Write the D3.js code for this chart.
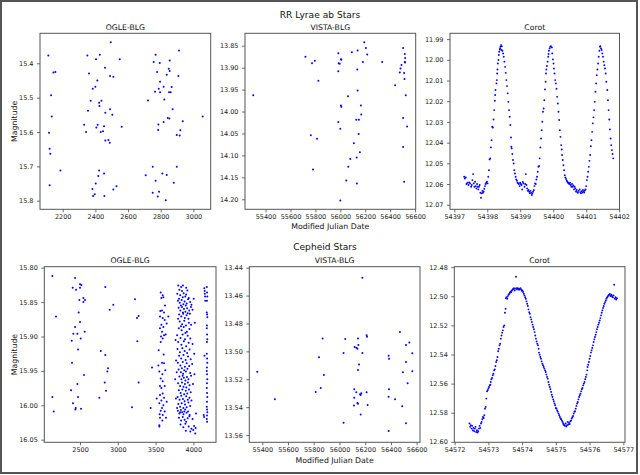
<!DOCTYPE html>
<html><head><meta charset="utf-8">
<script src="https://cdn.jsdelivr.net/npm/d3@7"></script>
<style>body{margin:0;background:#fff}svg{display:block;font-family:"DejaVu Sans",sans-serif}</style>
</head><body><svg id="c" width="640" height="475"></svg>
<script>
// ---------- DATA ----------
const suptitles = ["RR Lyrae ab Stars", "Cepheid Stars"];
const subtitles = ["OGLE-BLG", "VISTA-BLG", "Corot"];
const yLabel = "Magnitude";
const xLabel = "Modified Julian Date";

// RR Lyrae – OGLE-BLG  [JD, mag]
const rrOgle = [[2112,15.377],[2494,15.339],[2351,15.377],[2427,15.375],[2404,15.388],[2361,15.430],[2549,15.388],[2459,15.413],[2490,15.437],[2510,15.439],[2412,15.450],[2400,15.468],[2384,15.474],[2143,15.427],[2155,15.425],[2129,15.493],[2371,15.509],[2437,15.509],[2423,15.515],[2425,15.524],[2355,15.538],[2490,15.534],[2461,15.544],[2504,15.550],[2133,15.555],[2331,15.579],[2414,15.579],[2453,15.583],[2561,15.585],[2406,15.587],[2343,15.600],[2433,15.600],[2447,15.598],[2116,15.602],[2461,15.625],[2480,15.623],[2488,15.631],[2120,15.649],[2124,15.663],[2186,15.712],[2423,15.712],[2453,15.721],[2418,15.728],[2402,15.750],[2120,15.755],[2529,15.758],[2510,15.767],[2382,15.766],[2396,15.781],[2386,15.786],[2455,15.786],
[2769,15.375],[2912,15.363],[2757,15.396],[2794,15.399],[2855,15.392],[2778,15.425],[2849,15.416],[2855,15.422],[2837,15.433],[2908,15.437],[2796,15.454],[2818,15.468],[2867,15.469],[2788,15.474],[2765,15.483],[2796,15.484],[2861,15.484],[2851,15.484],[2722,15.508],[2822,15.505],[2873,15.534],[2843,15.559],[2853,15.561],[2818,15.571],[2935,15.569],[3057,15.555],[2786,15.578],[2784,15.594],[2920,15.595],[2898,15.609],[2916,15.610],[2751,15.701],[2898,15.701],[2708,15.726],[2810,15.721],[2837,15.725],[2769,15.742],[2880,15.748],[2790,15.774],[2751,15.777],[2782,15.788],[2831,15.799]];

// RR Lyrae – VISTA-BLG [MJD, mag]
const rrVista = [[55301,13.963],[55720,13.875],[55773,13.890],[55795,13.884],[55824,13.930],[55763,14.054],[55813,14.062],[55781,14.132],[55984,13.867],[55987,13.890],[55995,13.891],[55984,13.908],[56005,13.881],[56008,13.882],[56093,13.865],[56139,13.861],[56136,13.904],[56192,13.842],[56205,13.855],[56216,13.870],[56181,13.887],[56336,13.887],[56139,13.952],[56061,13.965],[56005,13.986],[56008,13.989],[56165,13.986],[56168,14.007],[55984,14.024],[56128,14.019],[56149,14.019],[56000,14.039],[56147,14.051],[56109,14.072],[56157,14.093],[56080,14.108],[56131,14.105],[56064,14.126],[56048,14.157],[56133,14.164],[56000,14.203],[56440,13.940],[56504,13.855],[56517,13.869],[56520,13.878],[56517,13.887],[56520,13.888],[56491,13.894],[56483,13.902],[56477,13.911],[56512,13.912],[56515,13.926],[56525,13.963],[56504,14.015],[56536,14.034],[56504,14.081],[56512,14.160]];

// RR Lyrae – Corot
const rrCorotJD = [54397.30,54397.32,54397.35,54397.37,54397.40,54397.43,54397.45,54397.48,54397.51,54397.53,
54397.55,54397.57,54397.59,54397.61,54397.63,54397.65,54397.67,54397.69,54397.71,54397.73,
54397.75,54397.77,54397.79,54397.81,54397.83,54397.85,54397.87,54397.89,54397.91,54397.93,
54397.95,54397.97,54397.99,54398.01,54398.03,54398.05,54398.07,54398.09,54398.11,54398.13,
54398.15,54398.17,54398.19,54398.21,54398.23,54398.24,54398.25,54398.28,54398.29,54398.30,
54398.31,54398.32,54398.34,54398.35,54398.36,54398.38,54398.39,54398.40,54398.42,54398.43,
54398.44,54398.46,54398.48,54398.50,
54398.52,54398.54,54398.56,54398.58,54398.60,54398.62,54398.64,54398.66,54398.68,54398.70,
54398.72,54398.73,54398.74,54398.76,54398.78,54398.80,54398.82,54398.84,54398.86,54398.88,
54398.90,54398.92,54398.94,54398.96,54398.98,54399.00,54399.02,54399.04,54399.06,54399.08,
54399.10,54399.13,54399.15,54399.17,54399.19,54399.21,54399.23,54399.25,54399.27,54399.29,
54399.31,54399.33,54399.35,54399.37,54399.39,54399.41,54399.43,54399.45,54399.47,54399.49,
54399.51,54399.53,54399.55,54399.57,54399.59,54399.61,54399.63,54399.65,54399.67,54399.69,
54399.71,54399.73,54399.75,54399.77,54399.78,54399.79,54399.81,54399.83,54399.85,54399.86,
54399.87,54399.89,54399.91,54399.93,54399.96,54399.97,54399.99,54400.01,54400.02,54400.04,
54400.06,54400.08,54400.10,54400.12,54400.14,54400.16,54400.18,54400.20,54400.22,54400.24,
54400.26,54400.27,54400.29,54400.31,54400.33,54400.35,54400.37,54400.39,54400.41,54400.43,
54400.45,54400.47,54400.49,54400.51,54400.53,54400.55,54400.57,54400.59,54400.61,54400.63,
54400.65,54400.67,54400.69,54400.71,54400.73,54400.75,54400.77,54400.80,54400.82,54400.84,
54400.86,54400.88,54400.90,54400.92,54400.94,54400.96,54400.98,54401.00,54401.02,54401.04,
54401.06,54401.08,54401.10,54401.12,54401.14,54401.16,54401.18,54401.20,54401.22,54401.24,
54401.26,54401.28,54401.30,54401.32,54401.34,54401.36,54401.38,54401.40,54401.42,54401.43,
54401.45,54401.47,54401.49,54401.51,54401.53,54401.55,54401.57,54401.59,54401.61,54401.64,
54401.66,54401.68,54401.70,54401.72,54401.74,54401.76,54401.78,54401.80,54401.82];
const rrCorotMag = [12.0565,12.0573,12.0568,12.0600,12.0594,12.0605,12.0592,12.0597,12.0613,12.0605,
12.0581,12.0552,12.0597,12.0613,12.0589,12.0610,12.0621,12.0600,12.0613,12.0626,
12.0613,12.0605,12.0642,12.0666,12.0645,12.0633,12.0642,12.0636,12.0623,12.0610,
12.0600,12.0594,12.0589,12.0597,12.0565,12.0533,12.0481,12.0476,12.0423,12.0388,
12.0323,12.0327,12.0288,12.0243,12.0198,12.0170,12.0146,12.0114,12.0098,12.0066,
12.0047,12.0018,12.0001,11.9977,11.9961,11.9950,11.9945,11.9937,11.9929,11.9953,
11.9934,11.9956,11.9969,11.9985,
12.0009,12.0034,12.0063,12.0098,12.0127,12.0162,12.0203,12.0243,12.0275,12.0315,
12.0375,12.0420,12.0428,12.0455,12.0484,12.0501,12.0533,12.0549,12.0565,12.0578,
12.0584,12.0594,12.0597,12.0600,12.0610,12.0594,12.0600,12.0605,12.0626,12.0590,
12.0597,12.0613,12.0600,12.0552,12.0605,12.0621,12.0633,12.0629,12.0637,12.0645,
12.0633,12.0642,12.0653,12.0645,12.0637,12.0629,12.0610,12.0597,12.0600,12.0578,
12.0565,12.0541,12.0517,12.0513,12.0476,12.0423,12.0380,12.0340,12.0299,12.0251,
12.0235,12.0195,12.0143,12.0106,12.0066,12.0047,12.0030,12.0009,11.9985,11.9972,
11.9956,11.9945,11.9937,11.9934,11.9940,11.9969,11.9998,12.0018,12.0042,12.0066,
12.0098,12.0114,12.0140,12.0179,12.0211,12.0251,12.0291,12.0340,12.0372,12.0412,
12.0433,12.0460,12.0484,12.0509,12.0533,12.0557,12.0568,12.0576,12.0584,12.0589,
12.0594,12.0597,12.0600,12.0594,12.0605,12.0613,12.0600,12.0613,12.0607,12.0626,
12.0613,12.0621,12.0636,12.0629,12.0639,12.0642,12.0633,12.0626,12.0639,12.0645,
12.0634,12.0641,12.0629,12.0636,12.0641,12.0631,12.0626,12.0610,12.0581,12.0565,
12.0541,12.0517,12.0488,12.0460,12.0417,12.0388,12.0348,12.0307,12.0278,12.0243,
12.0203,12.0154,12.0114,12.0074,12.0047,12.0018,11.9985,11.9956,11.9937,11.9934,
11.9945,11.9953,11.9969,11.9985,12.0009,12.0026,12.0042,12.0066,12.0106,12.0146,
12.0195,12.0243,12.0288,12.0336,12.0380,12.0412,12.0436,12.0455,12.0476];

// Cepheid – OGLE-BLG [JD, mag]
const cepOgle = [[2134,15.812],[2182,15.871],[2134,15.988],[2152,16.009],[2434,15.815],[2403,15.829],[2447,15.832],[2500,15.824],[2518,15.825],[2500,15.829],[2491,15.847],[2544,15.844],[2566,15.847],[2544,15.850],[2482,15.865],[2434,15.886],[2500,15.879],[2412,15.896],[2465,15.896],[2390,15.906],[2509,15.903],[2562,15.893],[2474,15.919],[2394,15.938],[2553,15.956],[2465,15.969],[2381,15.978],[2474,15.988],[2407,15.997],[2443,16.004],[2438,16.006],[2513,16.005],[2835,15.828],[2893,15.861],[2941,15.854],[2774,15.921],[2835,15.927],[2862,15.951],[2871,15.946],[2827,15.967],[2844,15.979],[2756,15.989],[3228,15.846],[3254,15.873],[3276,15.870],[3259,15.907],[3276,15.967],[3188,16.003],[3453,15.945],[3435,16.004],
[3568,15.836],[3594,15.840],[3577,15.844],[3603,15.843],[3563,15.863],[3585,15.862],[3612,15.865],[3559,15.871],[3594,15.873],[3621,15.876],[3647,15.881],[3577,15.883],[3603,15.886],[3669,15.871],[3625,15.855],[3559,15.888],[3585,15.893],[3612,15.898],[3572,15.900],[3634,15.897],[3594,15.903],[3568,15.908],[3541,15.920],[3607,15.926],[3585,15.938],[3612,15.939],[3550,15.951],[3629,15.949],[3590,15.955],[3568,15.961],[3594,15.965],[3559,15.972],[3621,15.972],[3577,15.975],[3594,15.983],[3559,15.985],[3612,15.989],[3577,15.993],[3550,15.997],[3603,16.000],[3585,16.004],[3568,16.008],[3621,16.009],[3554,16.013],[3594,16.014],[3638,16.018],[3559,16.018],[3590,16.022],[3550,16.029],[3550,16.031],[3647,15.995],[3515,15.990],[3537,15.942],
[3800,15.826],[3838,15.828],[3862,15.826],[3905,15.829],[3921,15.833],[3850,15.834],[3815,15.832],
[3788,15.838],[3826,15.840],[3872,15.837],[3893,15.842],[3940,15.844],[3860,15.843],[3810,15.845],[3905,15.839],
[3796,15.848],[3820,15.851],[3845,15.847],[3868,15.853],[3884,15.849],[3912,15.852],[3930,15.846],[3958,15.850],[3835,15.855],[3900,15.855],[3975,15.854],
[3805,15.858],[3828,15.862],[3850,15.857],[3876,15.860],[3895,15.864],[3918,15.859],[3945,15.862],[3968,15.857],[3990,15.861],[3862,15.865],
[3812,15.868],[3840,15.871],[3866,15.867],[3888,15.873],[3910,15.869],[3935,15.874],[3955,15.867],[3798,15.874],[3925,15.866],
[3820,15.878],[3852,15.882],[3880,15.877],[3902,15.884],[3940,15.880],[3970,15.883],[3835,15.885],
[3808,15.888],[3845,15.891],[3872,15.886],[3915,15.893],[3948,15.889],[3895,15.895],
[3785,15.898],[3830,15.902],[3858,15.897],[3890,15.904],[3925,15.899],[3960,15.903],
[3800,15.908],[3842,15.912],[3875,15.907],[3905,15.914],[3938,15.909],[3990,15.911],
[3790,15.918],[3822,15.923],[3855,15.917],[3885,15.921],[3918,15.924],[3950,15.919],
[3812,15.928],[3840,15.932],[3870,15.927],[3898,15.934],[3930,15.929],[3965,15.933],
[3795,15.938],[3828,15.942],[3860,15.937],[3888,15.944],[3912,15.939],[3945,15.943],[3985,15.940],
[3805,15.948],[3835,15.952],[3848,15.946],[3865,15.954],[3880,15.949],[3902,15.951],[3922,15.947],[3958,15.953],[3780,15.952],
[3815,15.958],[3842,15.962],[3858,15.957],[3875,15.960],[3895,15.964],[3915,15.959],[3935,15.962],[3970,15.957],[3760,15.962],
[3798,15.968],[3825,15.972],[3850,15.967],[3870,15.973],[3888,15.969],[3908,15.974],[3928,15.967],[3950,15.971],[3995,15.969],
[3808,15.978],[3832,15.982],[3855,15.977],[3878,15.984],[3900,15.979],[3920,15.983],[3942,15.977],[3965,15.981],
[3792,15.988],[3818,15.992],[3840,15.986],[3862,15.991],[3884,15.994],[3905,15.987],[3926,15.992],[3948,15.989],[3975,15.993],
[3802,15.998],[3825,16.002],[3846,15.997],[3868,16.004],[3890,15.999],[3912,16.003],[3935,15.996],[3958,16.001],[3785,16.004],
[3795,16.008],[3815,16.012],[3835,16.007],[3852,16.010],[3870,16.013],[3892,16.006],[3910,16.011],[3930,16.009],[3950,16.014],[3880,16.009],[3825,16.010],
[3810,16.018],[3838,16.022],[3860,16.017],[3885,16.021],[3905,16.024],[3925,16.019],[3948,16.016],[3990,16.020],
[3830,16.028],[3868,16.032],[3895,16.027],[3938,16.031],[3975,16.034],[4010,16.030],
[3900,16.037],[3960,16.038],[4025,16.041],[4000,16.036],[4030,16.033],
[3765,15.905],[4020,15.880],[4015,15.955],[4035,16.012],[3770,15.990],[4005,15.845],[4012,15.925],[3772,15.935],
[4145,15.830],[4150,15.834],[4152,15.838],[4155,15.842],[4158,15.848],[4148,15.928],[4138,16.014],[4142,16.017],
[4178,15.828],[4182,15.836],[4185,15.842],[4180,15.848],[4178,15.865],[4182,15.868],[4185,15.872],[4180,15.884],[4178,15.888],[4182,15.897],[4185,15.904],[4180,15.908],[4178,15.925],[4182,15.932],[4185,15.938],[4180,15.945],[4178,15.950],[4182,15.955],[4185,15.962],[4180,15.968],[4178,15.975],[4182,15.982],[4185,15.988],[4180,15.995],[4178,16.002],[4182,16.006],[4185,16.010],[4180,16.015],[4178,16.020],[4182,16.024]];

// Cepheid – VISTA-BLG [MJD, mag]
const cepVista = [[55361,13.5146],[55498,13.5344],[55841,13.5043],[55869,13.4907],[55879,13.5169],[55854,13.5262],[55815,13.5291],[56032,13.5012],[56045,13.4912],[56032,13.5511],[56118,13.4969],[56131,13.4974],[56139,13.4982],[56144,13.4907],[56147,13.4955],[56152,13.5094],[56144,13.5134],[56178,13.4472],[56178,13.5012],[56211,13.4885],[56214,13.4895],[56115,13.5272],[56131,13.5294],[56211,13.5294],[56115,13.5332],[56160,13.5308],[56165,13.5313],[56170,13.5300],[56144,13.5375],[56139,13.5370],[56113,13.5388],[56165,13.5452],[56219,13.5385],[56382,13.5031],[56385,13.5053],[56385,13.5272],[56382,13.5325],[56432,13.5344],[56382,13.5571],[56470,13.4861],[56517,13.4955],[56543,13.4936],[56517,13.5077],[56566,13.5014],[56493,13.5150],[56566,13.5143],[56530,13.5228],[56488,13.5393],[56517,13.5515]];

// Cepheid – Corot
const cepCorotJD = [54572.44,54572.46,54572.48,54572.50,54572.52,54572.54,54572.56,54572.58,54572.60,54572.62,
54572.64,54572.66,54572.68,54572.70,54572.72,54572.74,54572.76,54572.78,54572.80,54572.82,
54572.84,54572.86,54572.88,54572.90,54572.92,54572.94,54572.96,54572.98,54573.00,54573.02,
54573.04,54573.06,54573.07,54573.09,54573.11,54573.13,54573.15,54573.17,54573.19,54573.21,
54573.23,54573.25,54573.27,54573.29,54573.31,54573.33,54573.35,54573.37,54573.39,54573.41,
54573.43,54573.45,54573.47,54573.49,54573.51,54573.52,54573.54,54573.56,54573.58,54573.60,
54573.62,54573.64,54573.66,54573.68,54573.70,54573.72,54573.74,54573.76,54573.78,54573.79,
54573.82,54573.83,54573.85,54573.87,54573.89,54573.91,54573.93,54573.95,54573.97,54573.99,
54574.01,54574.03,54574.05,54574.07,54574.09,54574.11,54574.13,54574.15,54574.17,54574.19,
54574.21,54574.23,54574.25,54574.27,54574.29,54574.31,54574.33,54574.35,54574.37,54574.39,
54574.41,54574.43,54574.45,54574.47,54574.49,54574.50,54574.52,54574.54,54574.56,54574.58,
54574.60,54574.62,54574.64,54574.66,54574.68,54574.70,54574.72,54574.74,54574.76,54574.78,
54574.80,54574.82,54574.84,54574.86,54574.88,54574.90,54574.92,54574.94,54574.96,54574.98,
54575.00,54575.02,54575.04,54575.06,54575.08,54575.10,54575.12,54575.14,54575.16,54575.18,
54575.20,54575.22,54575.23,54575.25,54575.27,54575.29,54575.31,54575.33,54575.35,54575.37,
54575.39,54575.41,54575.43,54575.45,54575.47,54575.49,54575.51,54575.53,54575.55,54575.57,
54575.59,54575.61,54575.63,54575.65,54575.67,54575.69,54575.71,54575.73,54575.75,54575.77,
54575.79,54575.81,54575.83,54575.85,54575.87,54575.89,54575.91,54575.93,54575.94,54575.96,
54575.98,54576.00,54576.02,54576.04,54576.06,54576.08,54576.10,54576.12,54576.14,54576.16,
54576.18,54576.20,54576.22,54576.24,54576.26,54576.28,54576.30,54576.32,54576.34,54576.36,
54576.38,54576.40,54576.42,54576.44,54576.46,54576.48,54576.50,54576.52,54576.54,54576.56,
54576.58,54576.60,54576.62,54576.64,54576.65,54576.67,54576.69,54576.71,54576.73,54576.75,
54576.77,54576.79,54576.81];
const cepCorotMag = [12.5874,12.5897,12.5886,12.5909,12.5890,12.5920,12.5904,12.5927,12.5909,12.5897,
12.5932,12.5920,12.5936,12.5927,12.5909,12.5890,12.5904,12.5874,12.5863,12.5845,
12.5829,12.5836,12.5817,12.5772,12.5760,12.5703,12.5653,12.5646,12.5634,12.5623,
12.5612,12.5607,12.5589,12.5570,12.5561,12.5543,12.5532,12.5509,12.5502,12.5479,
12.5452,12.5440,12.5417,12.5378,12.5360,12.5337,12.5326,12.5291,12.5269,12.5250,
12.5234,12.5211,12.5200,12.5113,12.5086,12.5013,12.5006,12.5017,12.4999,12.4990,
12.4983,12.4976,12.4967,12.4971,12.4960,12.4953,12.4949,12.4944,12.4960,12.4949,
12.4866,12.4944,12.4953,12.4944,12.4949,12.4955,12.4949,12.4944,12.4953,12.4962,
12.4960,12.4971,12.4983,12.4994,12.5006,12.5017,12.5035,12.5051,12.5067,12.5090,
12.5109,12.5120,12.5143,12.5159,12.5177,12.5195,12.5211,12.5227,12.5246,12.5269,
12.5291,12.5310,12.5326,12.5337,12.5360,12.5387,12.5401,12.5417,12.5429,12.5447,
12.5463,12.5474,12.5486,12.5497,12.5509,12.5520,12.5538,12.5554,12.5566,12.5589,
12.5607,12.5623,12.5639,12.5657,12.5676,12.5692,12.5708,12.5721,12.5737,12.5749,
12.5767,12.5772,12.5785,12.5794,12.5806,12.5817,12.5829,12.5840,12.5845,12.5854,
12.5863,12.5874,12.5881,12.5886,12.5890,12.5874,12.5895,12.5886,12.5863,12.5881,
12.5868,12.5877,12.5858,12.5854,12.5840,12.5831,12.5822,12.5806,12.5794,12.5790,
12.5772,12.5753,12.5737,12.5726,12.5708,12.5692,12.5680,12.5669,12.5653,12.5639,
12.5630,12.5612,12.5600,12.5589,12.5570,12.5554,12.5538,12.5509,12.5486,12.5470,
12.5452,12.5429,12.5410,12.5387,12.5372,12.5355,12.5337,12.5314,12.5296,12.5280,
12.5264,12.5246,12.5227,12.5211,12.5195,12.5182,12.5166,12.5150,12.5131,12.5113,
12.5097,12.5081,12.5067,12.5051,12.5040,12.5029,12.5017,12.5008,12.5001,12.4994,
12.4990,12.4985,12.4999,12.4994,12.4990,12.5001,12.5008,12.4994,12.4921,12.5017,
12.5006,12.5022,12.5013];

// Tick values
const rrOgleXTicks = [2200,2400,2600,2800,3000];
const rrOgleYTicks = [15.4,15.5,15.6,15.7,15.8];
const rrVistaXTicks = [55400,55600,55800,56000,56200,56400,56600];
const rrVistaYTicks = [13.85,13.90,13.95,14.00,14.05,14.10,14.15,14.20];
const rrCorotXTicks = [54397,54398,54399,54400,54401,54402];
const rrCorotYTicks = [11.99,12.00,12.01,12.02,12.03,12.04,12.05,12.06,12.07];
const cepOgleXTicks = [2500,3000,3500,4000];
const cepOgleYTicks = [15.80,15.85,15.90,15.95,16.00,16.05];
const cepVistaXTicks = [55400,55600,55800,56000,56200,56400,56600];
const cepVistaYTicks = [13.44,13.46,13.48,13.50,13.52,13.54,13.56];
const cepCorotXTicks = [54572,54573,54574,54575,54576,54577];
const cepCorotYTicks = [12.48,12.50,12.52,12.54,12.56,12.58,12.60];

// ---------- DRAW ----------
const svg = d3.select('#c');
svg.append('rect').attr('x',1).attr('y',1).attr('width',636).attr('height',472)
  .attr('fill','#fff').attr('stroke','#555').attr('stroke-width',2);

const TICK_FS = 6.5;
function panel(o){
  const x = d3.scaleLinear().domain(o.xd).range([o.x0,o.x1]);
  const y = d3.scaleLinear().domain(o.yd).range([o.y0,o.y1]);
  const g = svg.append('g');
  g.append('g').selectAll('circle').data(o.pts).join('circle')
    .attr('cx',d=>x(d[0])).attr('cy',d=>y(d[1])).attr('r',o.r).attr('fill','#0000ff');
  const ax = g.append('g').attr('transform',`translate(0,${o.y1})`)
    .call(d3.axisBottom(x).tickValues(o.xt).tickFormat(d3.format('d')).tickSize(3).tickPadding(2));
  const ay = g.append('g').attr('transform',`translate(${o.x0},0)`)
    .call(d3.axisLeft(y).tickValues(o.yt).tickFormat(d3.format(o.yf)).tickSize(3).tickPadding(3.5));
  [ax,ay].forEach(a=>{
    a.select('.domain').remove();
    a.selectAll('line').attr('stroke','#444').attr('stroke-width',0.8);
    a.selectAll('text').attr('font-size',TICK_FS).attr('fill','#222').attr('font-family','"DejaVu Sans",sans-serif');
  });
  g.append('rect').attr('x',o.x0).attr('y',o.y0).attr('width',o.x1-o.x0).attr('height',o.y1-o.y0)
    .attr('fill','none').attr('stroke','#555').attr('stroke-width',1);
  g.append('text').attr('x',(o.x0+o.x1)/2).attr('y',o.y0-3.8).attr('text-anchor','middle')
    .attr('font-size',7.7).attr('fill','#111').text(o.title);
  if(o.xlab){
    g.append('text').attr('x',(o.x0+o.x1)/2).attr('y',o.xlabY).attr('text-anchor','middle')
      .attr('font-size',7.8).attr('fill','#111').text(o.xlab);
  }
  if(o.ylab){
    const cy=(o.y0+o.y1)/2;
    g.append('text').attr('transform',`translate(17,${cy}) rotate(-90)`).attr('text-anchor','middle')
      .attr('font-size',7.8).attr('fill','#111').text(o.ylab);
  }
}

const zip = (a,b)=>a.map((v,i)=>[v,b[i]]);

// top row
svg.append('text').attr('x',320).attr('y',17.5).attr('text-anchor','middle').attr('font-size',9.1).attr('fill','#111').text(suptitles[0]);
panel({x0:40,x1:210.7,y0:33.3,y1:209.3,xd:[2061,3106],yd:[15.3126,15.825],pts:rrOgle,r:1.0,xt:rrOgleXTicks,yt:rrOgleYTicks,yf:'.1f',title:subtitles[0],ylab:yLabel});
panel({x0:245,x1:415.7,y0:33.3,y1:209.3,xd:[55235,56605],yd:[13.8217,14.2228],pts:rrVista,r:1.0,xt:rrVistaXTicks,yt:rrVistaYTicks,yf:'.2f',title:subtitles[1],xlab:xLabel,xlabY:229});
panel({x0:450,x1:619.5,y0:33.3,y1:209.3,xd:[54396.87,54402.01],yd:[11.9872,12.0722],pts:zip(rrCorotJD,rrCorotMag),r:0.95,xt:rrCorotXTicks,yt:rrCorotYTicks,yf:'.2f',title:subtitles[2]});

// bottom row
svg.append('text').attr('x',325).attr('y',250).attr('text-anchor','middle').attr('font-size',9.1).attr('fill','#111').text(suptitles[1]);
panel({x0:44.3,x1:216,y0:266.7,y1:442.3,xd:[2027,4300],yd:[15.7985,16.0538],pts:cepOgle,r:1.0,xt:cepOgleXTicks,yt:cepOgleYTicks,yf:'.2f',title:subtitles[0],ylab:yLabel});
panel({x0:249.3,x1:420,y0:266.7,y1:442.3,xd:[55299,56626],yd:[13.4393,13.5652],pts:cepVista,r:1.0,xt:cepVistaXTicks,yt:cepVistaYTicks,yf:'.2f',title:subtitles[1],xlab:xLabel,xlabY:463});
panel({x0:454.3,x1:625,y0:266.7,y1:442.3,xd:[54571.99,54577.05],yd:[12.4797,12.6003],pts:zip(cepCorotJD,cepCorotMag),r:0.95,xt:cepCorotXTicks,yt:cepCorotYTicks,yf:'.2f',title:subtitles[2]});
</script></body></html>
